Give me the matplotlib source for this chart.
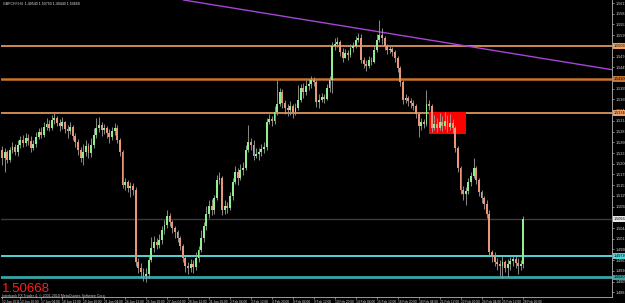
import matplotlib
matplotlib.use("Agg")
import matplotlib.pyplot as plt
import numpy as np
from matplotlib.patches import Rectangle
from matplotlib.transforms import blended_transform_factory

# GBPCHF H4 candles, 12 Jan - 28 Feb 2011
header = "GBPCHF,H4  1.49540 1.50750 1.49440 1.50668"
first_open = 1.5241

closes = [
    1.5221, 1.5236, 1.5216, 1.5241, 1.5248, 1.5236, 1.5253, 1.5266, 1.5258, 1.5271,
    1.5263, 1.5246, 1.5256, 1.5273, 1.5286, 1.5278, 1.5299, 1.5307, 1.5297, 1.5317,
    1.5322, 1.5309, 1.5302, 1.5312, 1.5294, 1.5288, 1.5299, 1.5276, 1.5261, 1.5241,
    1.5221, 1.5236, 1.5251, 1.5233, 1.5253, 1.5278, 1.5297, 1.5304, 1.5291, 1.5297,
    1.5283, 1.5273, 1.5288, 1.5297, 1.5266, 1.5236, 1.5152, 1.5160, 1.5145, 1.5150,
    1.5140, 1.4959, 1.4944, 1.4934, 1.4924, 1.4929, 1.4964, 1.4994, 1.5009, 1.5001,
    1.5014, 1.5039, 1.5052, 1.5075, 1.5060, 1.5045, 1.5034, 1.5019, 1.4999, 1.4969,
    1.4949, 1.4944, 1.4954, 1.4946, 1.4969, 1.4989, 1.5019, 1.5050, 1.5080, 1.5100,
    1.5090, 1.5120, 1.5165, 1.5170, 1.5090, 1.5100, 1.5095, 1.5125, 1.5160, 1.5186,
    1.5170, 1.5191, 1.5196, 1.5241, 1.5261, 1.5253, 1.5226, 1.5231, 1.5236, 1.5243,
    1.5248, 1.5312, 1.5319, 1.5314, 1.5337, 1.5357, 1.5387, 1.5359, 1.5347, 1.5342,
    1.5352, 1.5337, 1.5347, 1.5367, 1.5397, 1.5387, 1.5402, 1.5407, 1.5417, 1.5412,
    1.5362, 1.5367, 1.5374, 1.5369, 1.5397, 1.5417, 1.5503, 1.5508, 1.5513, 1.5488,
    1.5473, 1.5485, 1.5480, 1.5498, 1.5503, 1.5518, 1.5523, 1.5468, 1.5458, 1.5453,
    1.5468, 1.5463, 1.5493, 1.5518, 1.5530, 1.5523, 1.5503, 1.5493, 1.5495, 1.5488,
    1.5473, 1.5448, 1.5412, 1.5367, 1.5372, 1.5364, 1.5359, 1.5352, 1.5332, 1.5302,
    1.5312, 1.5307, 1.5357, 1.5352, 1.5297, 1.5307, 1.5297, 1.5312, 1.5302, 1.5314,
    1.5299, 1.5309, 1.5297, 1.5246, 1.5196, 1.5140, 1.5130, 1.5137, 1.5160, 1.5175,
    1.5196, 1.5165, 1.5135, 1.5120, 1.5105, 1.5080, 1.4984, 1.4974, 1.4959, 1.4954,
    1.4949, 1.4959, 1.4944, 1.4954, 1.4961, 1.4966, 1.4956, 1.4949, 1.4954, 1.50668,
]

highs = [
    1.5251, 1.5246, 1.5241, 1.5248, 1.5261, 1.5256, 1.5266, 1.5276, 1.5278, 1.5283,
    1.5281, 1.5276, 1.5266, 1.5286, 1.5297, 1.5299, 1.5312, 1.5322, 1.5317, 1.5329,
    1.5334, 1.5327, 1.5319, 1.5324, 1.5314, 1.5304, 1.5312, 1.5304, 1.5283, 1.5268,
    1.5248, 1.5256, 1.5266, 1.5258, 1.5271, 1.5297, 1.5322, 1.5324, 1.5312, 1.5307,
    1.5302, 1.5294, 1.5299, 1.5309, 1.5304, 1.5271, 1.5241, 1.5170, 1.5165, 1.5160,
    1.5157, 1.5147, 1.4969, 1.4956, 1.4944, 1.4944, 1.4974, 1.5022, 1.5024, 1.5019,
    1.5029, 1.5050, 1.5065, 1.5090, 1.5082, 1.5065, 1.5050, 1.5039, 1.5024, 1.5004,
    1.4974, 1.4959, 1.4966, 1.4964, 1.4984, 1.4999, 1.5039, 1.5060, 1.5100, 1.5115,
    1.5118, 1.5127, 1.5178, 1.5186, 1.5175, 1.5115, 1.5110, 1.5135, 1.5170, 1.5201,
    1.5196, 1.5206, 1.5211, 1.5253, 1.5304, 1.5271, 1.5266, 1.5246, 1.5246, 1.5256,
    1.5261, 1.5322, 1.5332, 1.5327, 1.5352, 1.5417, 1.5397, 1.5394, 1.5367, 1.5357,
    1.5364, 1.5357, 1.5359, 1.5404, 1.5407, 1.5409, 1.5417, 1.5420, 1.5427, 1.5425,
    1.5417, 1.5382, 1.5384, 1.5382, 1.5407, 1.5427, 1.5513, 1.5523, 1.5526, 1.5518,
    1.5498, 1.5496, 1.5493, 1.5508, 1.5513, 1.5528, 1.5535, 1.5533, 1.5475, 1.5468,
    1.5478, 1.5475, 1.5503, 1.5533, 1.5569, 1.5548, 1.5528, 1.5508, 1.5503, 1.5500,
    1.5493, 1.5478, 1.5453, 1.5417, 1.5382, 1.5377, 1.5372, 1.5367, 1.5357, 1.5337,
    1.5322, 1.5319, 1.5392, 1.5367, 1.5357, 1.5329, 1.5322, 1.5334, 1.5327, 1.5337,
    1.5329, 1.5332, 1.5319, 1.5302, 1.5251, 1.5201, 1.5150, 1.5147, 1.5170, 1.5186,
    1.5221, 1.5201, 1.5170, 1.5140, 1.5125, 1.5115, 1.5090, 1.4989, 1.4984, 1.4969,
    1.4964, 1.4974, 1.4964, 1.4966, 1.4971, 1.4976, 1.4974, 1.4969, 1.4964, 1.5075,
]

lows = [
    1.5203, 1.5186, 1.5208, 1.5211, 1.5233, 1.5228, 1.5226, 1.5246, 1.5248, 1.5251,
    1.5253, 1.5236, 1.5241, 1.5248, 1.5268, 1.5271, 1.5273, 1.5291, 1.5288, 1.5291,
    1.5307, 1.5302, 1.5288, 1.5294, 1.5283, 1.5271, 1.5281, 1.5266, 1.5248, 1.5228,
    1.5211, 1.5203, 1.5226, 1.5221, 1.5223, 1.5246, 1.5271, 1.5286, 1.5276, 1.5281,
    1.5271, 1.5258, 1.5266, 1.5278, 1.5258, 1.5226, 1.5145, 1.5140, 1.5135, 1.5122,
    1.5127, 1.4949, 1.4931, 1.4921, 1.4910, 1.4908, 1.4918, 1.4959, 1.4984, 1.4991,
    1.4994, 1.5004, 1.5029, 1.5045, 1.5050, 1.5032, 1.5019, 1.5009, 1.4989, 1.4959,
    1.4934, 1.4929, 1.4934, 1.4931, 1.4939, 1.4959, 1.4984, 1.5009, 1.5039, 1.5070,
    1.5077, 1.5080, 1.5115, 1.5155, 1.5077, 1.5080, 1.5082, 1.5090, 1.5115, 1.5155,
    1.5152, 1.5165, 1.5178, 1.5191, 1.5236, 1.5241, 1.5216, 1.5221, 1.5216, 1.5226,
    1.5233, 1.5241, 1.5307, 1.5302, 1.5307, 1.5329, 1.5352, 1.5347, 1.5332, 1.5327,
    1.5329, 1.5322, 1.5329, 1.5342, 1.5362, 1.5372, 1.5379, 1.5392, 1.5397, 1.5402,
    1.5349, 1.5347, 1.5362, 1.5359, 1.5367, 1.5387, 1.5384, 1.5493, 1.5500, 1.5478,
    1.5463, 1.5473, 1.5468, 1.5475, 1.5488, 1.5498, 1.5513, 1.5460, 1.5448, 1.5440,
    1.5448, 1.5455, 1.5460, 1.5488, 1.5513, 1.5508, 1.5493, 1.5483, 1.5485, 1.5478,
    1.5463, 1.5438, 1.5402, 1.5357, 1.5359, 1.5352, 1.5347, 1.5342, 1.5322, 1.5273,
    1.5291, 1.5297, 1.5302, 1.5342, 1.5286, 1.5291, 1.5286, 1.5291, 1.5288, 1.5294,
    1.5286, 1.5291, 1.5283, 1.5236, 1.5186, 1.5130, 1.5115, 1.5102, 1.5130, 1.5150,
    1.5170, 1.5155, 1.5125, 1.5107, 1.5092, 1.5070, 1.4974, 1.4959, 1.4949, 1.4939,
    1.4924, 1.4918, 1.4934, 1.4921, 1.4939, 1.4949, 1.4944, 1.4929, 1.4939, 1.4944,
]

date_ticks = [0, 7, 15, 23, 31, 39, 47, 55, 63, 71, 79, 87, 95,
              103, 111, 119, 127, 135, 143, 151, 159, 167, 175, 183, 191, 199]
date_labels = [
    "12 Jan 2011", "13 Jan 20:00", "17 Jan 04:00", "18 Jan 12:00", "19 Jan 20:00",
    "21 Jan 04:00", "24 Jan 12:00", "25 Jan 20:00", "27 Jan 04:00", "28 Jan 12:00",
    "31 Jan 20:00", "2 Feb 04:00", "3 Feb 12:00", "4 Feb 20:00", "8 Feb 04:00",
    "9 Feb 12:00", "10 Feb 20:00", "14 Feb 04:00", "15 Feb 12:00", "16 Feb 20:00",
    "18 Feb 04:00", "21 Feb 12:00", "22 Feb 20:00", "24 Feb 04:00", "25 Feb 12:00",
    "28 Feb 20:00",
]

resistance_levels = [1.5503, 1.5420, 1.5334]
resistance_colors = ["#f0a060", "#c8742c", "#f0a060"]
resistance_widths = [1.2, 1.8, 1.2]
support_levels = [1.4973, 1.4920]
support_colors = ["#4fd6d8", "#38a4a6"]
support_widths = [1.4, 2.0]
trend_bars = [69, 231]
trend_prices = [1.5619, 1.5445]
zone_bars = [163, 177]
zone_prices = [1.5280, 1.5337]
bid_price = 1.50668

BG = "black"
BULL = "#90ee90"
BEAR = "#e9967a"
WICK = "#a0a0a0"
AXIS = "#b4b4b4"

fig = plt.figure(figsize=(6.25, 3.03), dpi=100, facecolor=BG)
ax = fig.add_axes([1 / 625, 6 / 303, 611 / 625, 297 / 303], facecolor=BG)

o = np.array([first_open] + closes[:-1])
c = np.array(closes)
h = np.maximum(np.array(highs), np.maximum(o, c))
l = np.minimum(np.array(lows), np.minimum(o, c))
x = np.arange(len(c))
up = c >= o

# support / resistance, zone, trendline, bid line
for lvl, col, lw in zip(resistance_levels, resistance_colors, resistance_widths):
    ax.axhline(lvl, color=col, lw=lw, zorder=1)
for lvl, col, lw in zip(support_levels, support_colors, support_widths):
    ax.axhline(lvl, color=col, lw=lw, zorder=1)
ax.axhline(bid_price, color="#3c3c3c", lw=1.0, zorder=1)
ax.add_patch(Rectangle((zone_bars[0], zone_prices[0]),
                       zone_bars[1] - zone_bars[0], zone_prices[1] - zone_prices[0],
                       facecolor="#ff0000", edgecolor="none", zorder=1.5))
ax.axline((trend_bars[0], trend_prices[0]), (trend_bars[1], trend_prices[1]),
          color="#a844d8", lw=1.0, zorder=1)

# candles
ax.vlines(x, l, h, color=WICK, lw=0.6, zorder=3)
body_bottom = np.minimum(o, c)
body_height = np.maximum(np.abs(c - o), 0.00004)
ax.bar(x[up], body_height[up], bottom=body_bottom[up], width=0.72,
       color=BULL, linewidth=0, zorder=4)
ax.bar(x[~up], body_height[~up], bottom=body_bottom[~up], width=0.72,
       color=BEAR, linewidth=0, zorder=4)

ax.set_xlim(-0.38, 232.8)
ax.set_ylim(1.48703, 1.56187)

# axes styling, MT4 look
for side in ("top", "left"):
    ax.spines[side].set_visible(False)
for side in ("right", "bottom"):
    ax.spines[side].set_color(AXIS)
    ax.spines[side].set_linewidth(0.6)

price_ticks = [round(1.5611 - 0.0027 * k, 5) for k in range(28)]
ax.yaxis.tick_right()
ax.set_yticks(price_ticks)
ax.set_yticklabels([f"{p:.5f}" for p in price_ticks])
ax.tick_params(axis="y", colors=AXIS, labelcolor="#d8d8d8", length=1.5,
               width=0.5, pad=1, labelsize=2.7)
for t in ax.get_yticklabels():
    t.set_family("Liberation Sans")

ax.set_xticks(date_ticks)
ax.set_xticklabels(date_labels, ha="left")
ax.tick_params(axis="x", colors=AXIS, labelcolor="#d8d8d8", length=1.5,
               width=0.5, pad=0.4, labelsize=2.3)
for t in ax.get_xticklabels():
    t.set_family("Liberation Sans")

# highlighted price labels on the right scale
trans = blended_transform_factory(ax.transAxes, ax.transData)
marks = list(zip(resistance_levels, resistance_colors)) + \
    list(zip(support_levels, support_colors)) + [(bid_price, "#e8e8e8")]
for lvl, col in marks:
    ax.text(1.0 + 2 / 611, lvl, f"{lvl:.5f}", transform=trans, fontsize=2.7,
            family="Liberation Sans", color="black", va="center", ha="left",
            bbox=dict(boxstyle="square,pad=0.2", fc=col, ec="none"),
            clip_on=False, zorder=10)

fig.text(3 / 625, 1 - 4 / 303, header, fontsize=2.6, family="Liberation Sans",
         color="#e0e0e0", va="center", ha="left")
fig.text(2 / 625, 1 - 292 / 303, f"{bid_price:.5f}", fontsize=9.5,
         family="Liberation Sans", color="#ff1e1e", va="baseline", ha="left")
fig.text(2 / 625, 1 - 296.5 / 303,
         "Interbank FX Trader 4, \u00a9 2001-2010 MetaQuotes Software Corp.",
         fontsize=2.6, family="Liberation Sans", color="#c8c8c8",
         va="baseline", ha="left")

fig.savefig("out.png", dpi=100, facecolor=BG)
plt.close(fig)
